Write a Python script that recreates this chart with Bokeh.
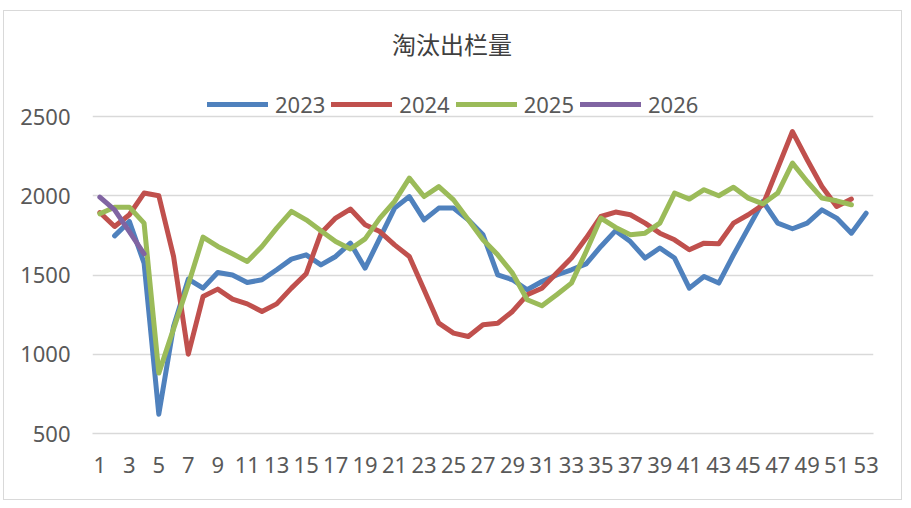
import numpy as np
from bokeh.plotting import figure
from bokeh.models import Range1d, FixedTicker, Legend, LegendItem, Label
from bokeh.embed import file_html
from bokeh.resources import INLINE

title_text = "淘汰出栏量"
weeks = list(range(1, 54))
series_names = ["2023", "2024", "2025", "2026"]
colors = ["#4F81BD", "#C0504D", "#9BBB59", "#8064A2"]
y_ticks = [500, 1000, 1500, 2000, 2500]
x_ticks = list(range(1, 54, 2))

v2023 = [None, 1747, 1838, 1575, 622, 1175, 1474, 1417, 1516, 1500,
         1453, 1470, 1533, 1600, 1627, 1564, 1617, 1701, 1543, 1733,
         1922, 1995, 1848, 1922, 1922, 1848, 1754, 1501, 1470, 1407,
         1459, 1500, 1533, 1570, 1680, 1780, 1711, 1607, 1670, 1607,
         1417, 1491, 1449, 1627, 1796, 1964, 1827, 1792, 1827, 1911,
         1859, 1764, 1890]
v2024 = [1894, 1806, 1880, 2017, 2000, 1617, 1000, 1364, 1411, 1348,
         1318, 1270, 1318, 1417, 1508, 1764, 1859, 1916, 1817, 1774,
         1690, 1617, 1407, 1196, 1133, 1112, 1186, 1196, 1270, 1375,
         1417, 1512, 1607, 1733, 1869, 1897, 1880, 1827, 1764, 1722,
         1659, 1701, 1697, 1827, 1880, 1943, 2174, 2405, 2227, 2058,
         1932, 1979, None]
v2025 = [1886, 1928, 1928, 1827, 881, 1160, 1440, 1739, 1680, 1634,
         1585, 1680, 1796, 1901, 1848, 1779, 1711, 1664, 1728, 1859,
         1964, 2111, 1995, 2058, 1974, 1848, 1722, 1627, 1512, 1344,
         1306, 1375, 1449, 1648, 1859, 1800, 1754, 1764, 1827, 2017,
         1979, 2038, 2000, 2054, 1985, 1949, 2017, 2206, 2090, 1985,
         1968, 1943, None]
v2026 = [1991, 1911, 1774, 1634] + [None] * 49

all_values = [v2023, v2024, v2025, v2026]

TXT = "#595959"
GRID = "#D9D9D9"
FONT = "Noto Sans"

# layout (pixels)
FRAME_W, FRAME_H = 781, 414
PLOT_H = 317  # pixel height of the 500..2500 value span
y_end = 500 + FRAME_H * (2000 / PLOT_H)

p = figure(width=897, height=488, output_backend="svg", toolbar_location=None,
           x_range=Range1d(0.5, 53.5), y_range=Range1d(500, y_end),
           min_border_left=88, min_border_right=28, min_border_top=8,
           min_border_bottom=66, frame_width=FRAME_W, frame_height=FRAME_H)
p.styles = {"border": "1px solid #D9D9D9", "margin-left": "3px", "margin-top": "10px"}
p.outline_line_color = None
p.background_fill_color = "white"
p.border_fill_color = "white"

p.xgrid.grid_line_color = None
p.ygrid.grid_line_color = GRID
p.ygrid.grid_line_width = 1.5

p.yaxis.ticker = FixedTicker(ticks=y_ticks)
p.xaxis.ticker = FixedTicker(ticks=x_ticks)
for ax in (p.xaxis[0], p.yaxis[0]):
    ax.major_tick_line_color = None
    ax.minor_tick_line_color = None
    ax.major_label_text_font = FONT
    ax.major_label_text_font_size = "22px"
    ax.major_label_text_color = TXT
p.yaxis.axis_line_color = None
p.yaxis.major_label_standoff = 16
p.xaxis.axis_line_color = GRID
p.xaxis.axis_line_width = 1.5
p.xaxis.major_label_standoff = 17

items = []
for name, vals, col in zip(series_names, all_values, colors):
    arr = np.array([np.nan if v is None else v for v in vals], dtype=float)
    r = p.line(weeks, arr, line_color=col, line_width=5,
               line_join="round", line_cap="round")
    items.append(LegendItem(label=name, renderers=[r]))

legend = Legend(items=items, orientation="horizontal", location=(115, 314),
                glyph_width=61, glyph_height=20, label_standoff=7, spacing=6,
                padding=0, margin=0, border_line_color=None,
                background_fill_alpha=0,
                label_text_font=FONT, label_text_font_size="22px",
                label_text_color=TXT)
p.add_layout(legend, "center")

title = Label(x=359.5, y=390, x_units="screen", y_units="screen",
              text=title_text, text_align="center", text_baseline="middle",
              text_font="Noto Sans CJK SC", text_font_size="24px",
              text_color="#404040")
p.add_layout(title)

open("out.html", "w").write(file_html(p, INLINE))
